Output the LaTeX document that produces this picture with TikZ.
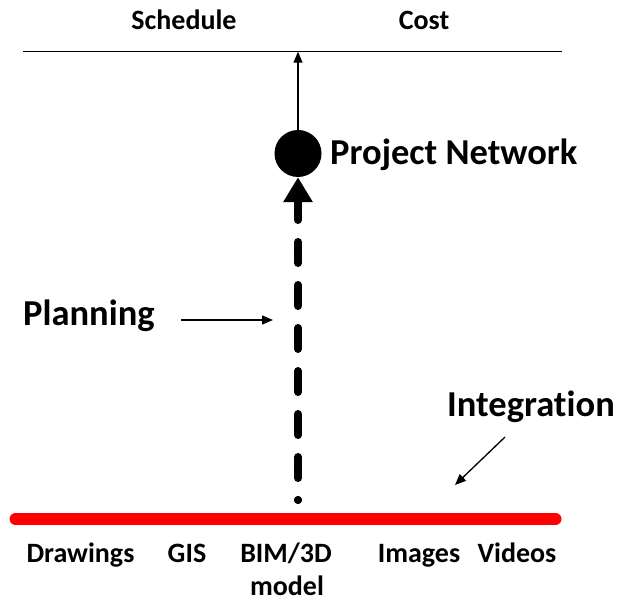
\documentclass[tikz,border=0pt]{standalone}
\usepackage{fontspec}
\setmainfont{Carlito}[Ligatures=NoCommon]
\usetikzlibrary{arrows.meta}
\begin{document}
\begin{tikzpicture}[x=1pt,y=-1pt,
  small/.style={font=\fontsize{28}{35}\selectfont\bfseries, inner sep=0pt},
  big/.style={font=\fontsize{36.5}{42}\selectfont\bfseries, inner sep=0pt},
  thinarrow/.style={line width=1.3pt, -{Triangle[length=11pt,width=9pt]}},
]
\useasboundingbox (0,0) rectangle (620,601);
% top labels and line
\node[small, anchor=base] (sched) at (184,30) {Schedule};
\node[small, anchor=base] (cost) at (424,30) {Cost};
\coordinate (tl) at (23,51.7);
\coordinate (tr) at (562,51.7);
\coordinate (top) at (298,51.7);
\draw[line width=1.3pt] (tl) -- (tr);
% project network
\node[circle, fill=black, minimum size=47pt, inner sep=0pt] (pn) at (298,153.5) {};
\node[big, anchor=base west] (pnl) at (330,165) {Project Network};
\draw[thinarrow] (pn.north) -- (top);
% dashed planning arrow
\node[circle, fill=black, minimum size=8pt, inner sep=0pt] (dot) at (298,500) {};
\draw[line width=8pt, line cap=round, dash pattern=on 0pt off 22pt on 21pt off 0pt,
  -{Triangle[length=25pt,width=28pt]}] (dot.center) -- (pn.south);
% planning
\node[big, anchor=base west] (plan) at (23,325) {Planning};
\coordinate (pa1) at (181,320);
\coordinate (pa2) at (273,320);
\draw[thinarrow] (pa1) -- (pa2);
% integration
\node[big, anchor=base west] (integ) at (447,416.7) {Integration};
\coordinate (ia1) at (505,437);
\coordinate (ia2) at (455,485);
\draw[thinarrow] (ia1) -- (ia2);
% red line
\coordinate (rl) at (15.5,519);
\coordinate (rr) at (555.5,519);
\draw[red, line width=12pt, line cap=round] (rl) -- (rr);
% bottom labels
\node[small, anchor=base] (draw) at (80.5,562) {Drawings};
\node[small, anchor=base] (gis) at (187,562) {GIS};
\node[small, anchor=base] (bim) at (286,562) {BIM/3D};
\node[small, anchor=base] (model) at (287,595) {model};
\node[small, anchor=base] (img) at (419,562) {Images};
\node[small, anchor=base] (vid) at (517,562) {Videos};
\end{tikzpicture}
\end{document}
